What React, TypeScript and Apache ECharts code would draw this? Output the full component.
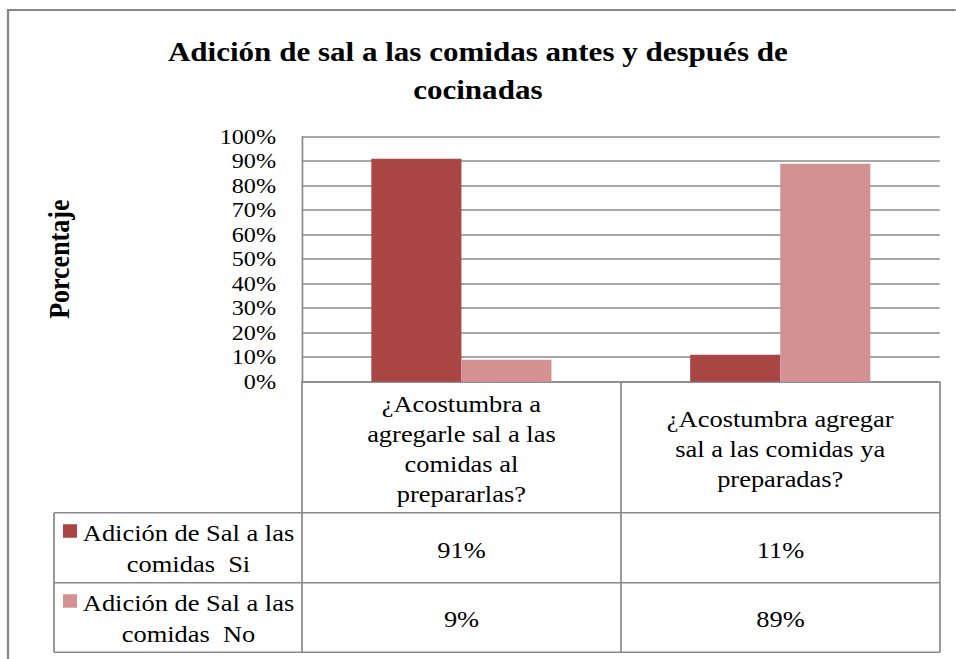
import React, { useEffect, useRef } from "react";
import * as echarts from "echarts";

// ---- data ----
const TITLE = "Adición de sal a las comidas antes y después de\ncocinadas";
const Y_AXIS_NAME = "Porcentaje";
const CATEGORIES = [
  "¿Acostumbra a\nagregarle sal a las\ncomidas al\nprepararlas?",
  "¿Acostumbra agregar\nsal a las comidas ya\npreparadas?",
];
const SERIES_NAMES = ["Adición de Sal a las comidas  Si", "Adición de Sal a las comidas  No"];
const SI_VALUES = [91, 11];
const NO_VALUES = [9, 89];
const Y_MIN = 0;
const Y_MAX = 100;
const Y_INTERVAL = 10;

// ---- layout / style ----
const S = 1.15; // horizontal stretch of the reference
const PAGE_W = 956;
const PAGE_H = 659;
const W = PAGE_W / S;
const FONT = "Liberation Serif";
const COLORS = ["#A94644", "#D39291"];
const GRAY = "#8a8a8a";

const PLOT_LEFT = 302 / S;
const PLOT_RIGHT = 940 / S;
const PLOT_TOP = 136.7;
const PLOT_BOTTOM = 381.7;
const TABLE_LEFT = 54 / S;
const ROW1_TOP = 512.7;
const ROW2_TOP = 582.7;
const TABLE_BOTTOM = 652.3;

function legendText(name: string) {
  return name.replace(" comidas", "\ncomidas");
}

export default function App() {
  const ref = useRef<HTMLDivElement>(null);

  useEffect(() => {
    if (!ref.current) return;
    const chart = echarts.init(ref.current, null, { renderer: "svg" });

    const colW = (PLOT_RIGHT - PLOT_LEFT) / CATEGORIES.length;
    const seriesValues = [SI_VALUES, NO_VALUES];
    const rowTops = [ROW1_TOP, ROW2_TOP];
    const rowBottoms = [ROW2_TOP, TABLE_BOTTOM];

    const line = (x1: number, y1: number, x2: number, y2: number) => ({
      type: "line",
      silent: true,
      shape: { x1, y1, x2, y2 },
      style: { stroke: GRAY, lineWidth: 1.5 },
    });

    const graphics: any[] = [];
    // outer chart border
    graphics.push({
      type: "rect",
      silent: true,
      shape: { x: 8 / S, y: 10, width: 1000, height: 800 },
      style: { fill: "none", stroke: "#868686", lineWidth: 2 },
    });
    // data table grid
    graphics.push(line(TABLE_LEFT, ROW1_TOP, PLOT_RIGHT, ROW1_TOP));
    graphics.push(line(TABLE_LEFT, ROW2_TOP, PLOT_RIGHT, ROW2_TOP));
    graphics.push(line(TABLE_LEFT, TABLE_BOTTOM, PLOT_RIGHT, TABLE_BOTTOM));
    graphics.push(line(TABLE_LEFT, ROW1_TOP, TABLE_LEFT, TABLE_BOTTOM));
    for (let i = 0; i <= CATEGORIES.length; i++) {
      const x = PLOT_LEFT + colW * i;
      graphics.push(line(x, PLOT_BOTTOM, x, TABLE_BOTTOM));
    }
    // data table rows: legend key, series name, values
    SERIES_NAMES.forEach((name, r) => {
      const cy = (rowTops[r] + rowBottoms[r]) / 2;
      graphics.push({
        type: "rect",
        silent: true,
        shape: { x: 63 / S, y: rowTops[r] + 11.5, width: 14 / S, height: 13.5 },
        style: { fill: COLORS[r] },
      });
      graphics.push({
        type: "text",
        silent: true,
        x: 188.5 / S,
        y: cy + 1,
        style: {
          text: legendText(name),
          fontSize: 23,
          fontFamily: FONT,
          lineHeight: 31,
          fill: "#000",
          align: "center",
          verticalAlign: "middle",
        },
      });
      seriesValues[r].forEach((v, c) => {
        graphics.push({
          type: "text",
          silent: true,
          x: PLOT_LEFT + colW * (c + 0.5),
          y: cy + 2,
          style: {
            text: `${v}%`,
            fontSize: 23,
            fontFamily: FONT,
            fill: "#000",
            align: "center",
            verticalAlign: "middle",
          },
        });
      });
    });

    chart.setOption({
      animation: false,
      backgroundColor: "#fff",
      color: COLORS,
      textStyle: { fontFamily: FONT },
      title: {
        text: TITLE,
        left: "center",
        top: 28,
        textStyle: {
          fontFamily: FONT,
          fontSize: 27,
          fontWeight: "bold",
          color: "#000",
          lineHeight: 38,
        },
      },
      legend: { show: false },
      grid: {
        left: PLOT_LEFT,
        right: W - PLOT_RIGHT,
        top: PLOT_TOP,
        bottom: PAGE_H - PLOT_BOTTOM,
      },
      xAxis: {
        type: "category",
        data: CATEGORIES,
        axisLine: { show: true, lineStyle: { color: GRAY, width: 1.5 } },
        axisTick: { show: false },
        splitLine: { show: false },
        axisLabel: {
          interval: 0,
          fontFamily: FONT,
          fontSize: 23,
          lineHeight: 30,
          color: "#000",
          align: "center",
          verticalAlign: "middle",
          margin: 67,
        },
      },
      yAxis: {
        type: "value",
        min: Y_MIN,
        max: Y_MAX,
        interval: Y_INTERVAL,
        name: Y_AXIS_NAME,
        nameLocation: "middle",
        nameRotate: 90,
        nameGap: 198,
        nameTextStyle: {
          fontFamily: FONT,
          fontSize: 26,
          fontWeight: "bold",
          color: "#000",
        },
        axisLine: { show: true, lineStyle: { color: GRAY, width: 1.5 } },
        axisTick: { show: false },
        splitLine: { show: true, lineStyle: { color: GRAY, width: 1.5 } },
        axisLabel: {
          formatter: "{value}%",
          fontFamily: FONT,
          fontSize: 21,
          color: "#000",
          margin: 26 / S,
        },
      },
      series: SERIES_NAMES.map((name, i) => ({
        name,
        type: "bar",
        data: seriesValues[i],
        barGap: "0%",
        barCategoryGap: "43.5%",
        itemStyle: { color: COLORS[i] },
      })),
      graphic: graphics,
    });

    return () => chart.dispose();
  }, []);

  return (
    <div
      ref={ref}
      style={{
        position: "absolute",
        left: 0,
        top: 0,
        width: W,
        height: PAGE_H,
        transform: `scaleX(${S})`,
        transformOrigin: "0 0",
      }}
    />
  );
}
